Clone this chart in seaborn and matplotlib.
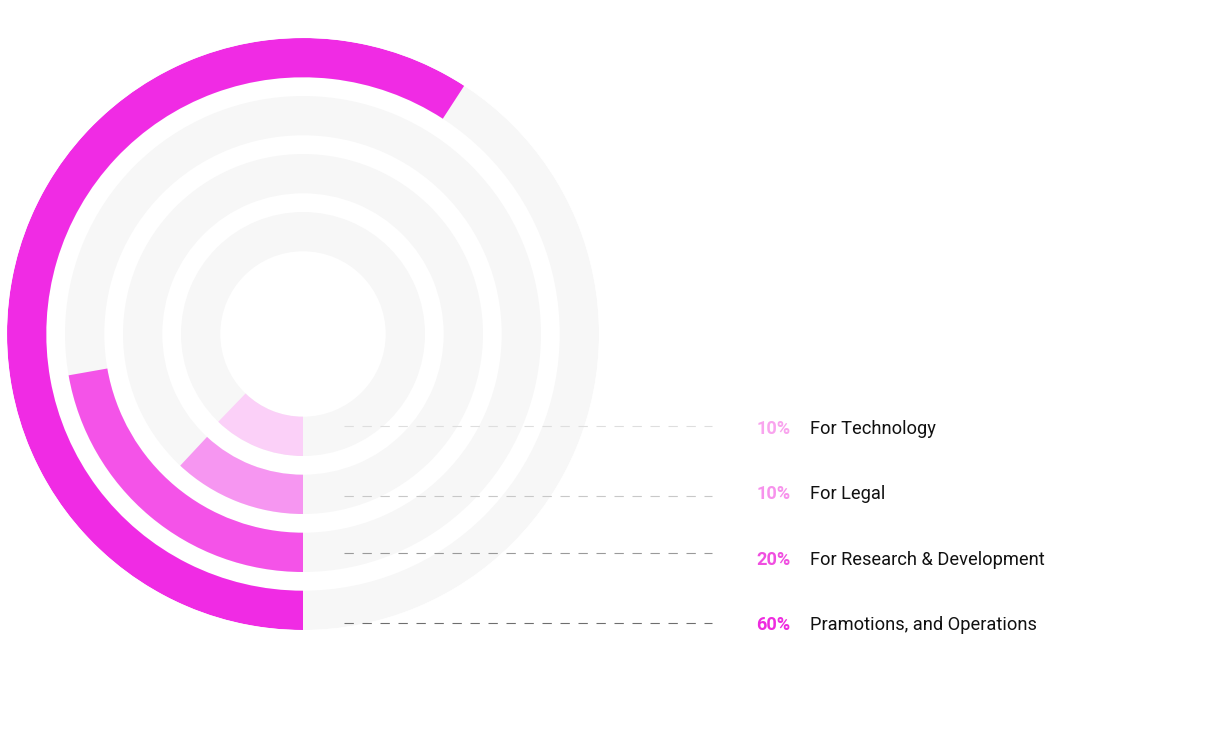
import numpy as np
import matplotlib
matplotlib.use("Agg")
import matplotlib.pyplot as plt
import seaborn as sns

# rings from outside to inside
categories = ["Pramotions, and Operations", "For Research & Development", "For Legal", "For Technology"]
shares = [60, 20, 10, 10]                 # printed percentages
arc_degrees = [213, 80, 43, 44]           # sweep of each coloured arc as drawn
ring_colors = ["#F02BE4", "#F453E8", "#F696F1", "#FBD0F8"]
pct_colors = ["#EE2BDF", "#F04FE0", "#F792EC", "#F9A4EE"]
dash_colors = ["#6E6E6E", "#9A9A9A", "#C8C8C8", "#DEDEDE"]

W, H = 1215, 744
CX, CY = 303, 334
R_OUT = 296
RING_W = 39.3
RING_STEP = 58
TRACK = "#F7F7F7"

sns.set_theme(style="white")
plt.rcParams["font.family"] = ["Roboto", "DejaVu Sans"]

fig = plt.figure(figsize=(W / 100, H / 100), dpi=100)
fig.patch.set_facecolor("white")

# polar axes sized so 1 radial unit = 1 pixel
ax = fig.add_axes([(CX - R_OUT) / W, (H - CY - R_OUT) / H, 2 * R_OUT / W, 2 * R_OUT / H],
                  projection="polar")
ax.set_theta_zero_location("S")
ax.set_theta_direction(-1)
ax.set_ylim(0, R_OUT)
ax.set_axis_off()
ax.patch.set_alpha(0)

for i, (deg, col) in enumerate(zip(arc_degrees, ring_colors)):
    r_outer = R_OUT - i * RING_STEP
    bottom = r_outer - RING_W
    ax.bar(np.pi, RING_W, width=2 * np.pi, bottom=bottom, color=TRACK,
           edgecolor="none", linewidth=0)
    sweep = np.deg2rad(deg)
    ax.bar(sweep / 2, RING_W, width=sweep, bottom=bottom, color=col,
           edgecolor="none", linewidth=0)

# overlay in pixel coordinates for leader lines and labels
ov = fig.add_axes([0, 0, 1, 1])
ov.set_xlim(0, W)
ov.set_ylim(H, 0)
ov.set_axis_off()
ov.patch.set_alpha(0)

line_y = [623.3, 553.3, 496, 426]
text_base = [630, 565, 499, 434.5]
for i, cat in enumerate(categories):
    ov.plot([344, 712], [line_y[i], line_y[i]], color=dash_colors[i], lw=0.8,
            linestyle=(0, (8.4, 7.8)))
    ov.text(756.5, text_base[i], f"{shares[i]}%", color=pct_colors[i],
            fontsize=13.1, fontweight="bold", ha="left", va="baseline")
    ov.text(810.5, text_base[i], cat, color="#111111", fontsize=13.15,
            ha="left", va="baseline")

fig.savefig("out.png", dpi=100, facecolor="white")
